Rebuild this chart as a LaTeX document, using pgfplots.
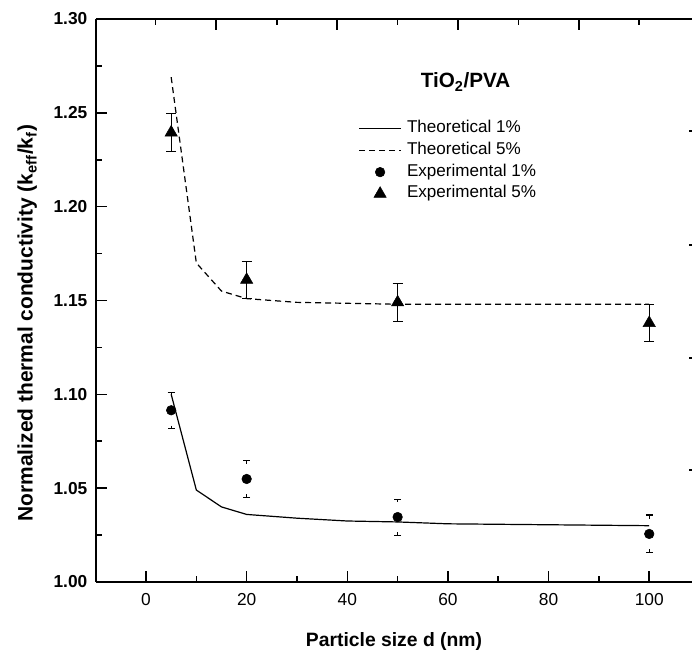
\documentclass[border=0pt]{standalone}
\usepackage{pgfplots}
\pgfplotsset{compat=1.18}
\usepackage{fontspec}
\setmainfont{Liberation Sans}
\newcommand{\lf}{\fontsize{12.8}{14}\selectfont}
\begin{document}
\begin{tikzpicture}
\useasboundingbox (-72pt,-54.75pt) rectangle (447pt,436.5pt);
\pgfplotsset{
  common/.style={
    at={(0,0)}, anchor=south west,
    scale only axis, width=447pt, height=422.25pt,
    xmin=-9.94, xmax=108.5, ymin=1.0, ymax=1.3,
    tick align=inside,
    every tick/.append style={black, line width=1.2pt},
    /pgf/number format/assume math mode=true,
  }
}
\begin{axis}[
  common,
  axis x line*=bottom, axis y line*=left,
  axis line style={line width=1.5pt, -},
  xtick={0,20,40,60,80,100},
  minor xtick={10,30,50,70,90},
  ytick={1.00,1.05,1.10,1.15,1.20,1.25,1.30},
  minor ytick={1.025,1.075,1.125,1.175,1.225,1.275},
  major tick length=8pt, minor tick length=4.5pt,
  xticklabel style={font=\fontsize{13}{15}\selectfont, yshift=-5pt},
  yticklabel style={font=\fontsize{13}{15}\selectfont\bfseries, xshift=-3pt, /pgf/number format/.cd, fixed, fixed zerofill, precision=2},
  xlabel={Particle size d (nm)},
  ylabel={Normalized thermal conductivity (k\textsubscript{eff}/k\textsubscript{f})},
  xlabel style={font=\fontsize{14.5}{17}\selectfont\bfseries, at={([yshift=-45pt]axis description cs:0.5,0)}, anchor=center},
  ylabel style={font=\fontsize{15.7}{18}\selectfont\bfseries, at={([xshift=-51.5pt,yshift=-17pt]axis description cs:0,0.5)}, anchor=center},
  legend style={draw=none, fill=none, at={(axis description cs:0.44,0.822)}, anchor=north west,
    inner sep=0pt, row sep=2.25pt,
    nodes={inner sep=1pt, text height=9pt, text depth=3pt},
    /tikz/every odd column/.append style={column sep=3pt}},
  legend cell align=left,
  legend image code/.code={\draw[mark repeat=2,mark phase=2,#1] plot coordinates {(0pt,0pt) (15.75pt,0pt) (31.5pt,0pt)};},
]
\addplot[black, line width=0.9pt] coordinates {
  (5,1.100) (10,1.049) (15,1.040) (20,1.036) (30,1.034) (40,1.0325) (50,1.032) (60,1.031) (80,1.0305) (100,1.030)};
\addlegendentry{\lf Theoretical 1\%}
\addplot[black, line width=0.9pt, dash pattern=on 4.5pt off 3pt] coordinates {
  (5,1.269) (10,1.170) (15,1.155) (20,1.151) (30,1.149) (50,1.148) (100,1.148)};
\addlegendentry{\lf Theoretical 5\%}
\addplot[black, only marks, mark=*, mark size=3.6pt,
  error bars/.cd, y dir=both, y explicit,
  error bar style={line width=0.8pt, dash pattern=on 0pt off 11.5pt on 2.5pt off 5pt},
  error mark options={rotate=90, mark size=2.6pt, line width=0.8pt, solid}]
  coordinates {
  (5,1.0915) +- (0,0.0095)
  (20,1.0549) +- (0,0.0098)
  (50,1.0346) +- (0,0.0096)
  (100,1.0256) +- (0,0.0101)};
\addlegendentry{\lf Experimental 1\%}
\addplot[black, only marks, mark=triangle*, mark size=5.3pt,
  error bars/.cd, y dir=both, y explicit,
  error bar style={line width=0.8pt},
  error mark options={rotate=90, mark size=3.75pt, line width=0.8pt}]
  coordinates {
  (5,1.2395) +- (0,0.0101)
  (20,1.1610) +- (0,0.0098)
  (50,1.1490) +- (0,0.0100)
  (100,1.1380) +- (0,0.0100)};
\addlegendentry{\lf Experimental 5\%}
\node[font=\fontsize{15.5}{18}\selectfont\bfseries] at (axis cs:63.5,1.2664) {TiO\textsubscript{2}/PVA};
\end{axis}
\begin{axis}[
  common,
  axis x line*=top, axis y line=none,
  axis line style={line width=1.5pt, -},
  xtick={13.9,38,62,86.1}, minor xtick={1.9,26,50,74,98},
  xticklabels={},
  major tick length=8pt, minor tick length=4.5pt,
]
\end{axis}
\begin{axis}[
  common,
  axis x line=none, axis y line*=right,
  y axis line style={draw=none},
  ytick={1.0597,1.1194,1.1796,1.2403},
  yticklabels={},
  major tick length=2pt,
]
\end{axis}
\end{tikzpicture}
\end{document}
